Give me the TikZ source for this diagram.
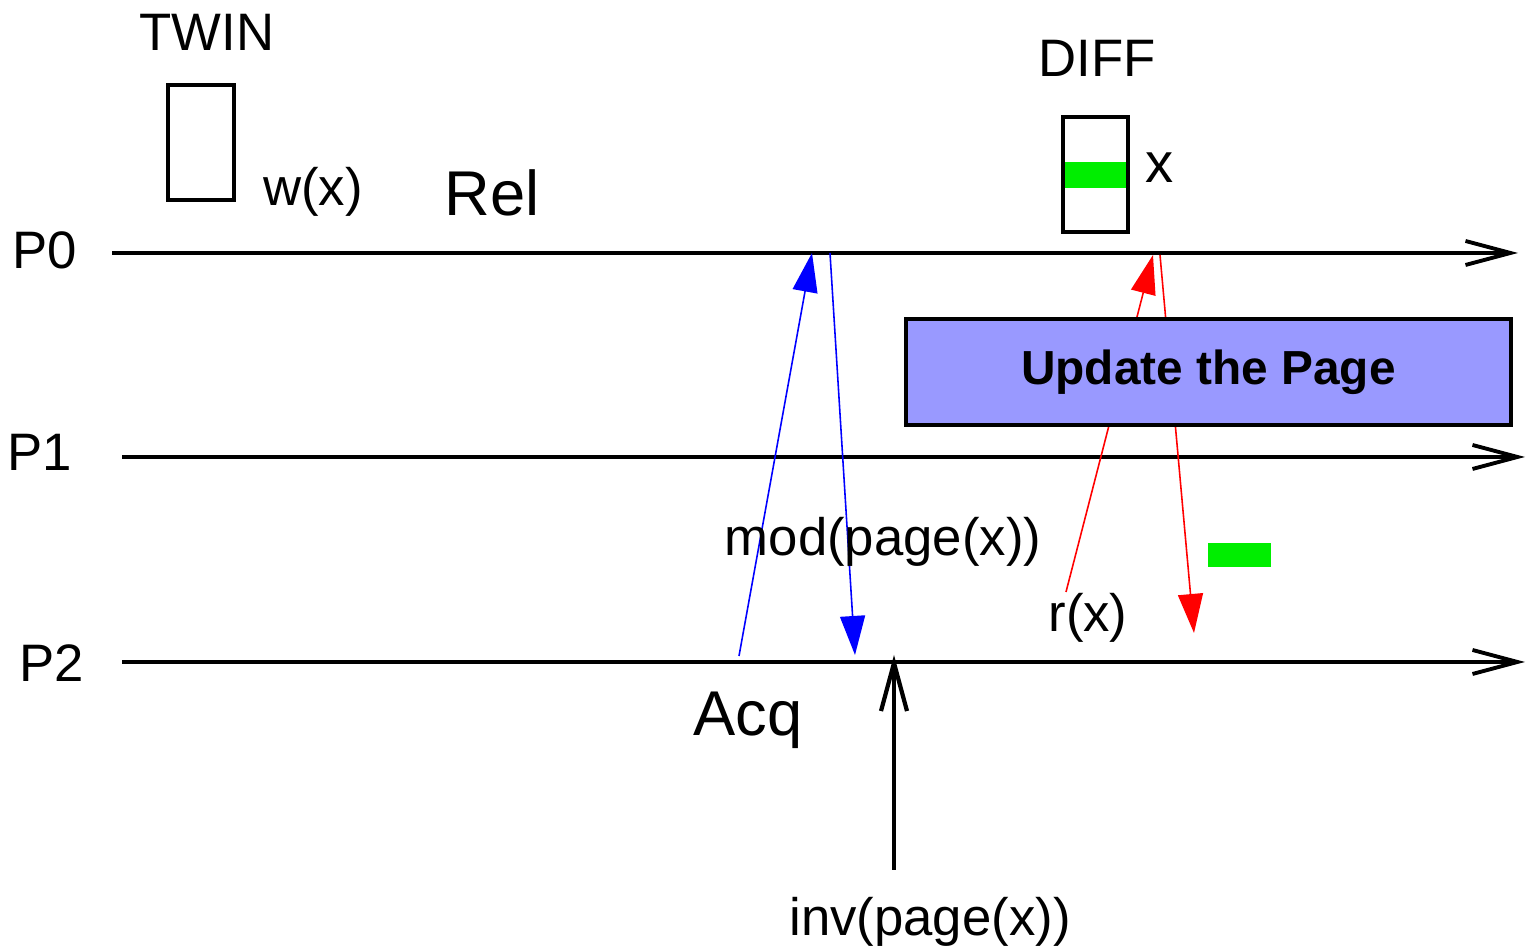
\documentclass[tikz,border=0pt]{standalone}
\usepackage{fontspec}
\setmainfont{Liberation Sans}
\usepackage{tikz}
\usetikzlibrary{calc, arrows.meta}

\definecolor{updfill}{RGB}{153,153,255}
\definecolor{bitgreen}{RGB}{0,238,0}

\tikzset{
    lbl/.style={inner sep=0pt, font=\fontsize{15}{18}\selectfont},
    biglbl/.style={inner sep=0pt, font=\fontsize{18}{21}\selectfont},
    lifeline/.style={line width=1.1pt, -{Straight Barb[length=4.5mm, width=2.4mm, line width=1.1pt]}},
    msgblue/.style={blue, line width=0.45pt, -{Triangle[length=3.9mm, width=2.5mm]}},
    msgred/.style={red, line width=0.45pt, -{Triangle[length=3.9mm, width=2.5mm]}},
    pagebox/.style={draw=black, line width=1.1pt}
}

\begin{document}
\begin{tikzpicture}

        \useasboundingbox (0,0) rectangle (15.26,9.51);

        %% Processes
        \node (P0) [lbl] at (0.45,7.01) {P0};
        \node (P1) [lbl] at (0.40,4.99) {P1};
        \node (P2) [lbl] at (0.52,2.88) {P2};

        \coordinate (p0s) at (1.12,6.98);
        \coordinate (p0e) at (15.18,6.98);
        \coordinate (p1s) at (1.22,4.94);
        \coordinate (p1e) at (15.25,4.94);
        \coordinate (p2s) at (1.22,2.89);
        \coordinate (p2e) at (15.25,2.89);

        \draw [lifeline] (p0s) -- (p0e);
        \draw [lifeline] (p1s) -- (p1e);
        \draw [lifeline] (p2s) -- (p2e);

        %% Twin
        \node (twin) [lbl] at (2.07,9.19) {TWIN};
        \draw [pagebox] (1.68,7.51) rectangle (2.34,8.66);
        \node (write) [lbl] at (3.13,7.59) {w(x)};
        \node (rel) [biglbl] at (4.92,7.58) {Rel};

        %% Diff
        \node (diff) [lbl] at (10.97,8.93) {DIFF};
        \fill [bitgreen] (10.63,7.63) rectangle (11.30,7.89);
        \draw [pagebox] (10.63,7.19) rectangle (11.28,8.34);
        \node (bitx) [lbl, font=\fontsize{16}{19}\selectfont] at (11.60,7.83) {x};

        %% Messages
        \coordinate (acqs) at (7.39,2.95);
        \coordinate (acqe) at (8.12,6.98);
        \coordinate (mods) at (8.30,6.98);
        \coordinate (mode) at (8.55,2.96);
        \draw [msgblue] (acqs) -- (acqe);
        \draw [msgblue] (mods) -- (mode);
        \node (modpage) [lbl] at (8.83,4.09) {mod(page(x))};

        \coordinate (reads) at (10.66,3.59);
        \coordinate (reade) at (11.53,6.96);
        \coordinate (upds) at (11.60,6.96);
        \coordinate (upde) at (11.94,3.18);
        \draw [msgred] (reads) -- (reade);
        \draw [msgred] (upds) -- (upde);
        \node (read) [lbl] at (10.88,3.33) {r(x)};
        \fill [bitgreen] (12.08,3.84) rectangle (12.71,4.08);

        %% Update box
        \node (update) [draw=black, line width=1.1pt, fill=updfill, minimum width=6.05cm, minimum height=1.06cm, font=\fontsize{13.6}{16}\selectfont\bfseries] at (12.085,5.79) {Update the Page};

        %% Acquire and invalidate
        \node (acq) [biglbl] at (7.48,2.31) {Acq};
        \node (inv) [lbl] at (9.30,0.29) {inv(page(x))};
        \coordinate (invs) at (8.94,0.81);
        \coordinate (inve) at (8.94,2.96);
        \draw [line width=1.2pt, -{Straight Barb[length=4.8mm, width=2.6mm, line width=1.2pt]}] (invs) -- (inve);

\end{tikzpicture}
\end{document}
